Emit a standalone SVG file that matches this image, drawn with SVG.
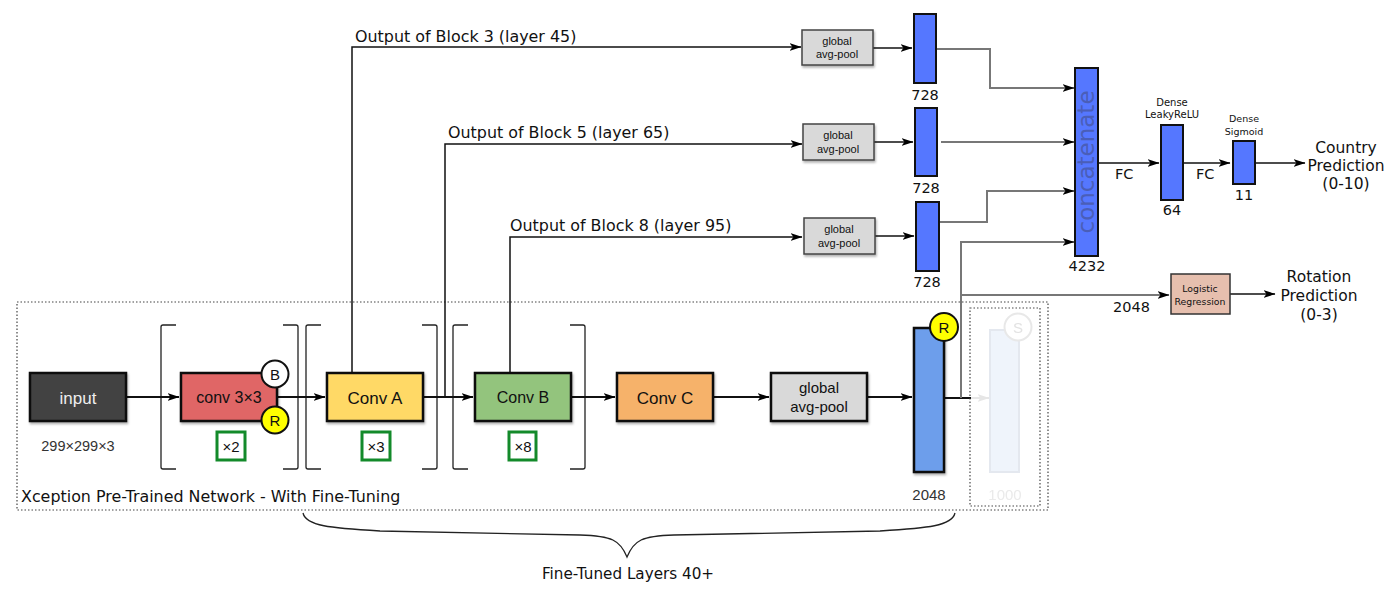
<svg xmlns="http://www.w3.org/2000/svg" width="1393" height="593" viewBox="0 0 1393 593">
<defs>
  <marker id="ah" viewBox="0 0 12 8" refX="11.5" refY="4" markerWidth="12" markerHeight="8" markerUnits="userSpaceOnUse" orient="auto">
    <path d="M0,0 L12,4 L0,8 L3,4 z" fill="#000"/>
  </marker>
  <marker id="ahg" viewBox="0 0 12 8" refX="11.5" refY="4" markerWidth="12" markerHeight="8" markerUnits="userSpaceOnUse" orient="auto">
    <path d="M0,0 L12,4 L0,8 L3,4 z" fill="#e6e6e6"/>
  </marker>
  <filter id="sh" x="-10%" y="-10%" width="125%" height="130%">
    <feDropShadow dx="1" dy="2" stdDeviation="1.2" flood-color="#000" flood-opacity="0.3"/>
  </filter>
</defs>
<style>
  .box { stroke:#111; stroke-width:2.5; filter:url(#sh); }
  .bt { font-family:"Liberation Sans", Arial, sans-serif; text-anchor:middle; fill:#111; }
  .dv { font-family:"DejaVu Sans", sans-serif; fill:#111; }
  .mid { text-anchor:middle; }
  .ln { fill:none; stroke:#111; stroke-width:1.5; }
  .lm { fill:none; stroke:#111; stroke-width:2; }
  .lg { fill:none; stroke:#777; stroke-width:2; }
  .bar { fill:#5577ff; stroke:#111; stroke-width:2; }
  .gap { fill:#d9d9d9; stroke:#444; stroke-width:1.5; filter:url(#sh); }
  .brk { fill:none; stroke:#222; stroke-width:1.3; }
  .rep { fill:#fff; stroke:#138a2a; stroke-width:3; }
</style>

<g id="frame">
  <rect x="17" y="302" width="1031" height="208" fill="none" stroke="#444" stroke-width="1.2" stroke-dasharray="1.5,2"/>
  <text class="dv" x="21" y="502" font-size="15.9">Xception Pre-Trained Network - With Fine-Tuning</text>
  <path class="brk" d="M303,513 C306,526 330,528 380,531 L580,535 C612,536 620,540 627,557 C634,540 642,536 674,535 L880,531 C928,528 952,526 955,513" stroke-width="1.5"/>
  <text class="dv mid" x="628" y="579" font-size="15.2">Fine-Tuned Layers 40+</text>
</g>

<g id="brackets">
  <path class="brk" d="M176,325 L163,325 Q161,325 161,327 L161,467 Q161,469 163,469 L176,469"/>
  <path class="brk" d="M283,325 L296,325 Q298,325 298,327 L298,467 Q298,469 296,469 L283,469"/>
  <path class="brk" d="M321,325 L308,325 Q306,325 306,327 L306,467 Q306,469 308,469 L321,469"/>
  <path class="brk" d="M422,325 L435,325 Q437,325 437,327 L437,467 Q437,469 435,469 L422,469"/>
  <path class="brk" d="M468,325 L455,325 Q453,325 453,327 L453,467 Q453,469 455,469 L468,469"/>
  <path class="brk" d="M570,325 L583,325 Q585,325 585,327 L585,467 Q585,469 583,469 L570,469"/>
</g>

<g id="connectors">
  <path class="lm" d="M126,397 L179,397" marker-end="url(#ah)"/>
  <path class="lm" d="M277,397 L325,397" marker-end="url(#ah)"/>
  <path class="lm" d="M423,397 L473,397" marker-end="url(#ah)"/>
  <path class="lm" d="M571,397 L615,397" marker-end="url(#ah)"/>
  <path class="lm" d="M713,397 L769,397" marker-end="url(#ah)"/>
  <path class="lm" d="M867,397 L912,397" marker-end="url(#ah)"/>
  <path class="lm" d="M944,398 L971,398" stroke="#333"/>
  <path d="M971,398 L989,398" fill="none" stroke="#e6e6e6" stroke-width="2" marker-end="url(#ahg)"/>
  <path class="ln" d="M352,373 L352,47 L801,47" marker-end="url(#ah)"/>
  <path class="ln" d="M445,397 L445,144 L802,144" stroke="#444" marker-end="url(#ah)"/>
  <path class="ln" d="M510,373 L510,237 L802,237" marker-end="url(#ah)"/>
  <path class="ln" d="M873,48 L912,48" marker-end="url(#ah)"/>
  <path class="ln" d="M874,142 L913,142" marker-end="url(#ah)"/>
  <path class="ln" d="M875,236 L914,236" marker-end="url(#ah)"/>
  <path class="lg" d="M937,49 L990,49 L990,88 L1074,88" marker-end="url(#ah)"/>
  <path class="lg" d="M941,142 L1074,142" marker-end="url(#ah)"/>
  <path class="lg" d="M940,222 L987,222 L987,191 L1074,191" marker-end="url(#ah)"/>
  <path class="lg" d="M961,398 L961,242 L1074,242" marker-end="url(#ah)"/>
  <path class="lg" d="M961,295 L1169,295" marker-end="url(#ah)"/>
  <path class="ln" d="M1097,163 L1159,163" marker-end="url(#ah)"/>
  <path class="ln" d="M1183,163 L1230,163" marker-end="url(#ah)"/>
  <path class="ln" d="M1255,163 L1305,163" stroke="#444" marker-end="url(#ah)"/>
  <path class="ln" d="M1230,294 L1275,294" marker-end="url(#ah)"/>
  <text class="dv" x="1113" y="312" font-size="14.5">2048</text>
  <text class="dv" x="1115" y="179" font-size="14.5">FC</text>
  <text class="dv" x="1196" y="179" font-size="14.5">FC</text>
  <text class="dv" x="355" y="42" font-size="15.9">Output of Block 3 (layer 45)</text>
  <text class="dv" x="448" y="138" font-size="15.9">Output of Block 5 (layer 65)</text>
  <text class="dv" x="510" y="231" font-size="15.9">Output of Block 8 (layer 95)</text>
</g>

<g id="input">
  <rect class="box" x="30" y="373" width="96" height="48" fill="#434343"/>
  <text class="bt" x="78" y="404" font-size="17" style="fill:#eeeeee">input</text>
  <text class="bt" x="78" y="451" font-size="14.5" style="fill:#333">299×299×3</text>
</g>

<g id="conv3x3">
  <rect class="box" x="181" y="373" width="96" height="48" fill="#e06666"/>
  <text class="bt" x="229" y="403" font-size="16">conv 3×3</text>
  <circle cx="275" cy="374" r="13.5" fill="#fff" stroke="#111" stroke-width="2"/>
  <text class="bt" x="275" y="380" font-size="15">B</text>
  <circle cx="275" cy="420" r="13.5" fill="#ffff00" stroke="#111" stroke-width="2"/>
  <text class="bt" x="275" y="426" font-size="15">R</text>
  <rect class="rep" x="217" y="432" width="28" height="28"/>
  <text class="bt" x="231" y="452" font-size="15">×2</text>
</g>

<g id="convA">
  <rect class="box" x="327" y="373" width="96" height="48" fill="#ffd966"/>
  <text class="bt" x="375" y="404" font-size="17">Conv A</text>
  <rect class="rep" x="362" y="432" width="28" height="28"/>
  <text class="bt" x="376" y="452" font-size="15">×3</text>
</g>

<g id="convB">
  <rect class="box" x="475" y="373" width="96" height="48" fill="#93c47d"/>
  <text class="bt" x="523" y="403" font-size="16">Conv B</text>
  <rect class="rep" x="509" y="432" width="27" height="28"/>
  <text class="bt" x="523" y="452" font-size="15">×8</text>
</g>

<g id="convC">
  <rect class="box" x="617" y="373" width="96" height="48" fill="#f6b26b"/>
  <text class="bt" x="665" y="404" font-size="17">Conv C</text>
</g>

<g id="gap-main">
  <rect class="box" x="771" y="373" width="96" height="48" fill="#d9d9d9"/>
  <text class="bt" x="819" y="393" font-size="15">global</text>
  <text class="bt" x="819" y="412" font-size="15">avg-pool</text>
</g>

<g id="feat2048">
  <rect class="box" x="914" y="328" width="30" height="144" fill="#6d9eeb"/>
  <circle cx="944" cy="327" r="14" fill="#ffff00" stroke="#111" stroke-width="2"/>
  <text class="bt" x="944" y="333" font-size="15">R</text>
  <text class="bt" x="929" y="500" font-size="15" style="fill:#333">2048</text>
</g>

<g id="softmax1000" opacity="0.9">
  <rect x="970" y="308" width="70" height="198" fill="none" stroke="#333" stroke-width="1.2" stroke-dasharray="1.5,2"/>
  <rect x="990" y="330" width="29" height="142" fill="#eef3fb" stroke="#e2e6ee" stroke-width="2"/>
  <circle cx="1018" cy="327" r="13.5" fill="#fff" stroke="#e6e6e6" stroke-width="2"/>
  <text class="bt" x="1018" y="333" font-size="15" style="fill:#e0e0e0">S</text>
  <text class="bt" x="1005" y="500" font-size="15" style="fill:#e8e8e8">1000</text>
</g>

<g id="gap1">
  <rect class="gap" x="802" y="30" width="71" height="35"/>
  <text class="bt" x="837" y="45" font-size="11">global</text>
  <text class="bt" x="837" y="58" font-size="11">avg-pool</text>
</g>
<g id="gap2">
  <rect class="gap" x="803" y="124" width="71" height="36"/>
  <text class="bt" x="838" y="139" font-size="11">global</text>
  <text class="bt" x="838" y="153" font-size="11">avg-pool</text>
</g>
<g id="gap3">
  <rect class="gap" x="804" y="218" width="71" height="36"/>
  <text class="bt" x="839" y="233" font-size="11">global</text>
  <text class="bt" x="839" y="247" font-size="11">avg-pool</text>
</g>

<g id="bar1">
  <rect class="bar" x="914" y="14" width="22" height="69"/>
  <text class="dv mid" x="925" y="100" font-size="14.5">728</text>
</g>
<g id="bar2">
  <rect class="bar" x="915" y="108" width="22" height="68"/>
  <text class="dv mid" x="926" y="193" font-size="14.5">728</text>
</g>
<g id="bar3">
  <rect class="bar" x="916" y="202" width="23" height="69"/>
  <text class="dv mid" x="927" y="287" font-size="14.5">728</text>
</g>

<g id="concatenate">
  <rect class="bar" x="1075" y="68" width="23" height="188"/>
  <text class="dv mid" transform="translate(1094,162) rotate(-90)" font-size="23" style="fill:#4a5eb8">concatenate</text>
  <text class="dv mid" x="1087" y="271" font-size="14.5">4232</text>
</g>

<g id="dense64">
  <text class="dv mid" x="1172" y="106" font-size="10">Dense</text>
  <text class="dv mid" x="1172" y="118" font-size="10">LeakyReLU</text>
  <rect class="bar" x="1161" y="125" width="22" height="75"/>
  <text class="dv mid" x="1172" y="215" font-size="14.5">64</text>
</g>

<g id="dense11">
  <text class="dv mid" x="1244" y="122" font-size="9.5">Dense</text>
  <text class="dv mid" x="1244" y="135" font-size="9.5">Sigmoid</text>
  <rect class="bar" x="1233" y="141" width="22" height="43"/>
  <text class="dv mid" x="1244" y="200" font-size="14.5">11</text>
</g>

<g id="country">
  <text class="dv mid" x="1346" y="153" font-size="15.5">Country</text>
  <text class="dv mid" x="1346" y="171" font-size="15.5">Prediction</text>
  <text class="dv mid" x="1346" y="189" font-size="15.5">(0-10)</text>
</g>

<g id="logistic">
  <rect x="1171" y="274" width="59" height="40" fill="#e6bfae" stroke="#333" stroke-width="1.5"/>
  <text class="dv mid" x="1200" y="292" font-size="9.3">Logistic</text>
  <text class="dv mid" x="1200" y="305" font-size="9.3">Regression</text>
</g>

<g id="rotation">
  <text class="dv mid" x="1319" y="282" font-size="15.5">Rotation</text>
  <text class="dv mid" x="1319" y="301" font-size="15.5">Prediction</text>
  <text class="dv mid" x="1319" y="320" font-size="15.5">(0-3)</text>
</g>
</svg>
